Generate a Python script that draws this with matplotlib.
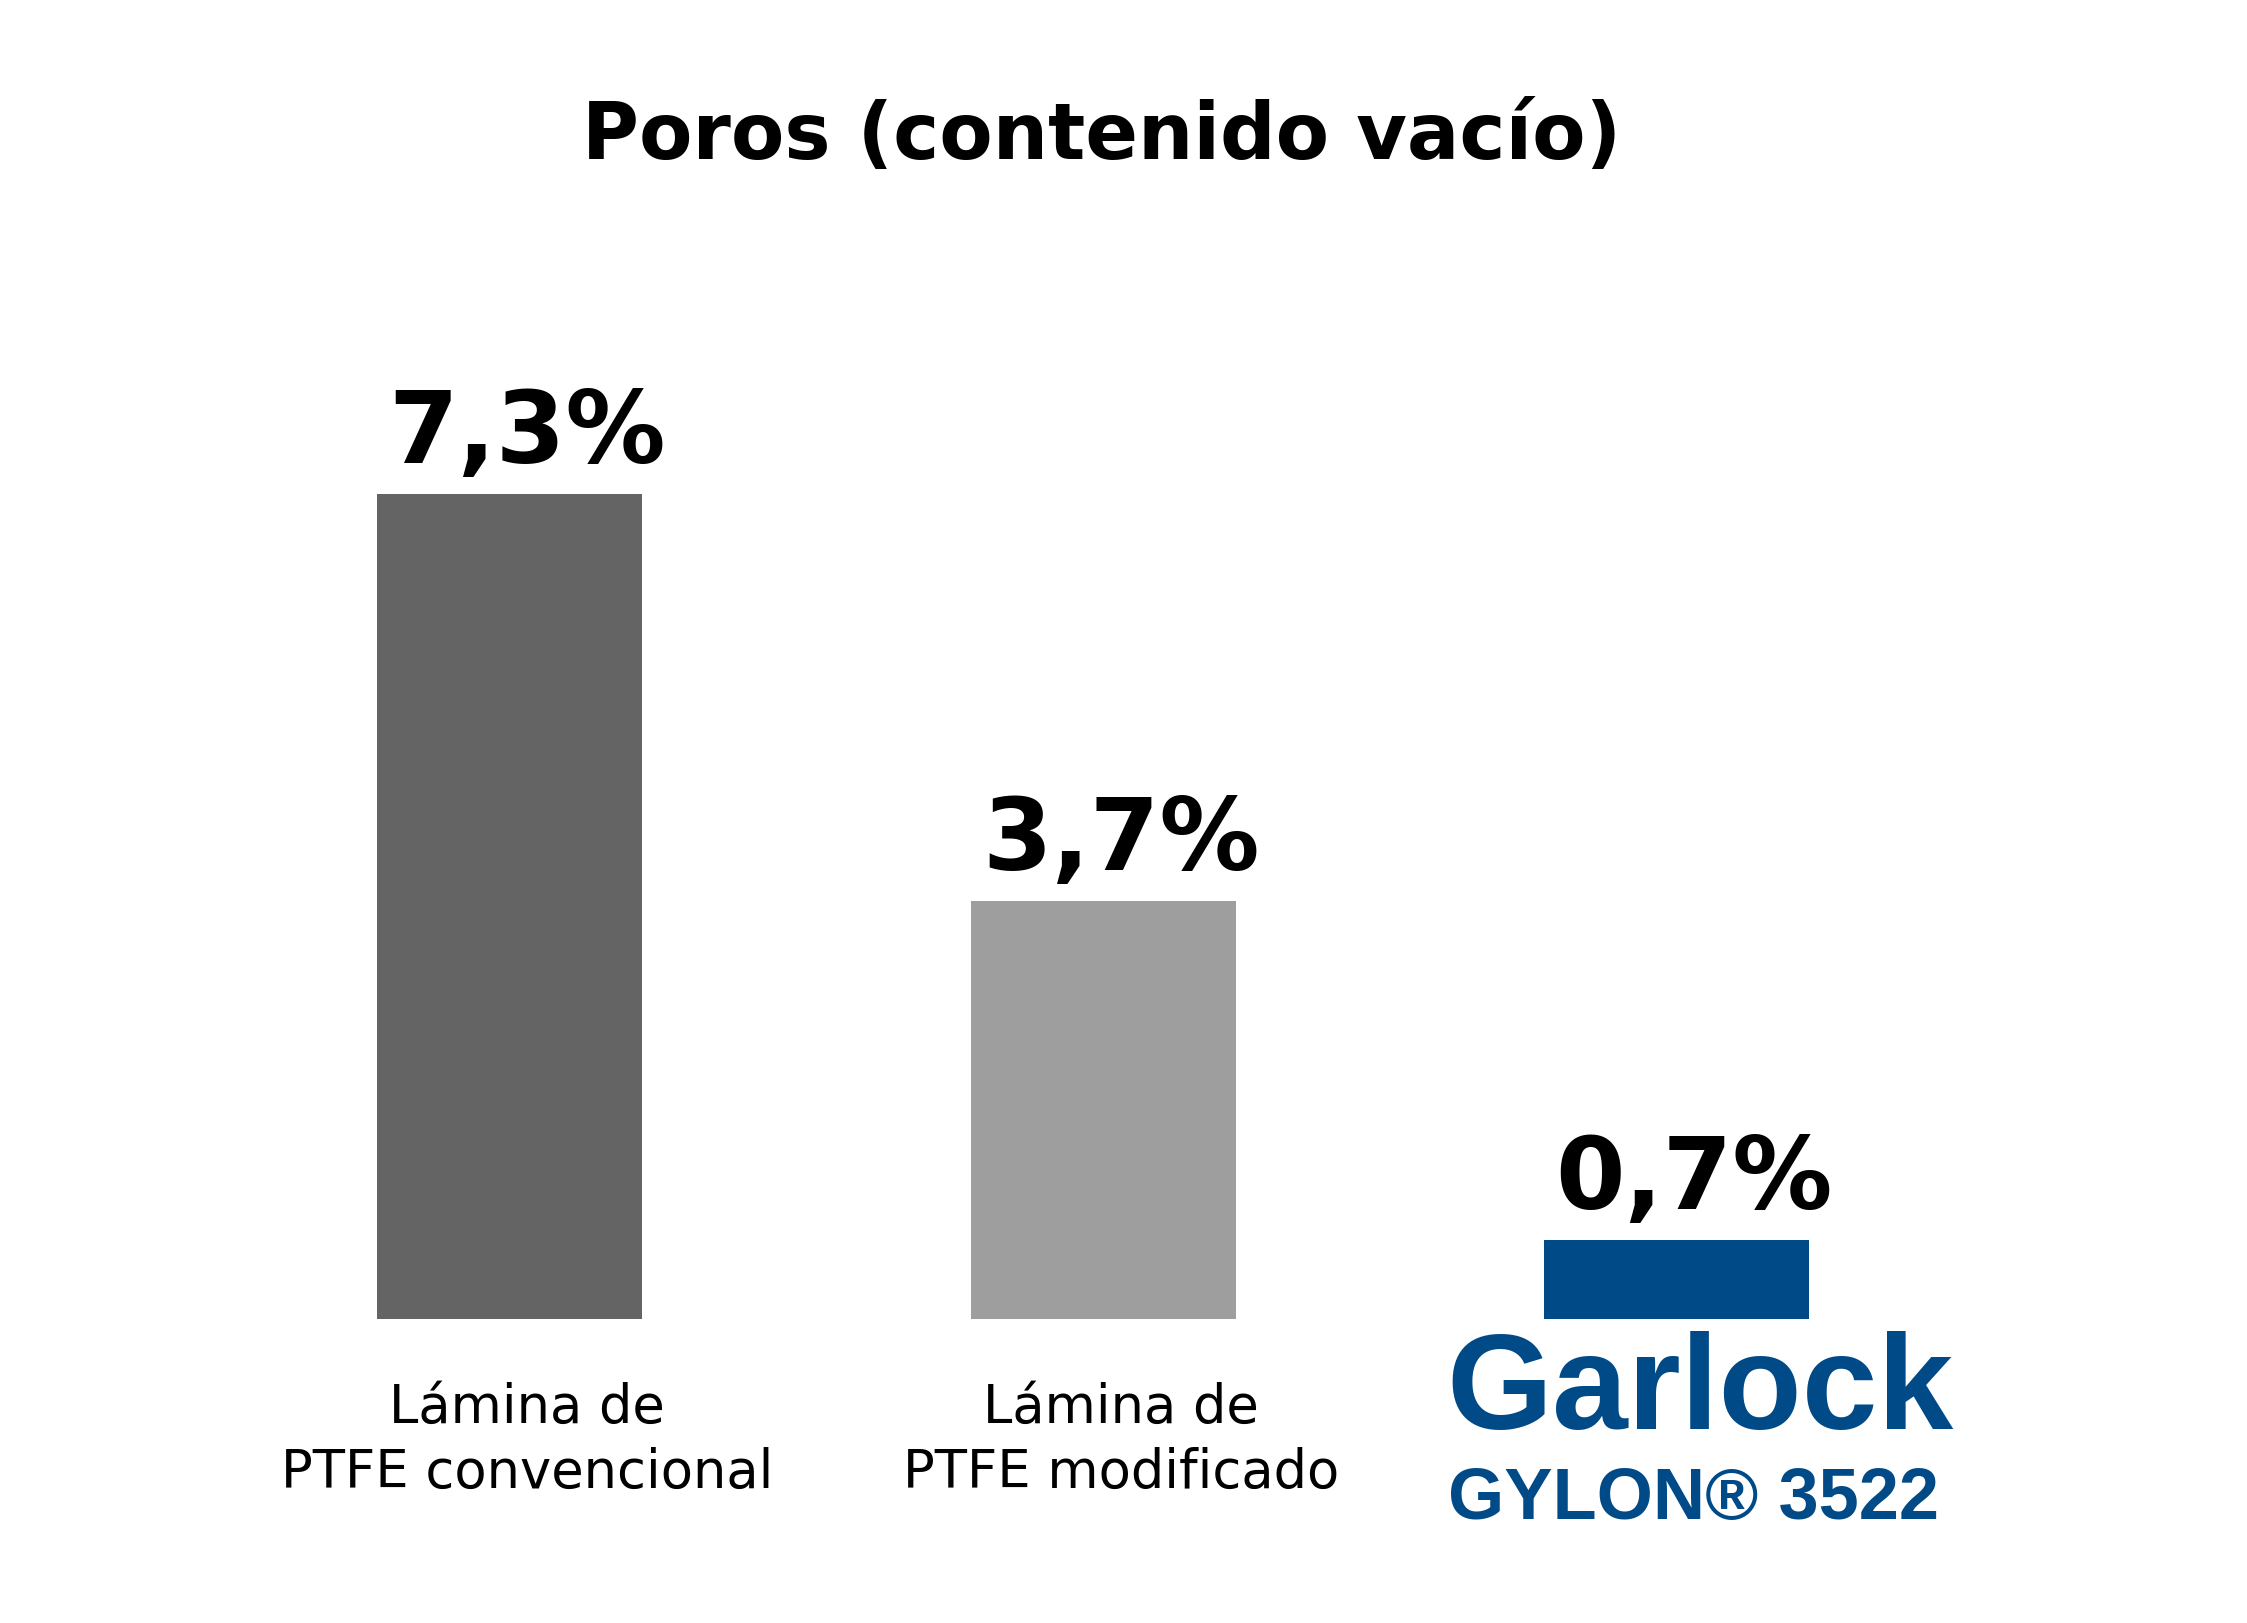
import matplotlib
matplotlib.use("Agg")
import matplotlib.pyplot as plt

categories = ["Lámina de\nPTFE convencional", "Lámina de\nPTFE modificado", ""]
values = [7.3, 3.7, 0.7]
labels = ["7,3%", "3,7%", "0,7%"]
colors = ["#646464", "#9e9e9e", "#004a87"]

fig = plt.figure(figsize=(22.47, 16.24), dpi=100)
ax = fig.add_axes([109/1560, 1-917/1128, (1415-109)/1560, 628/1128])
x = [0, 1.01, 1.985]
ax.bar(x, values, width=0.45, color=colors)
ax.set_xlim(-0.6, 2.6)
ax.set_ylim(0, 8)
ax.axis("off")
for xi, v, l in zip(x, values, labels):
    ax.text(xi + 0.03, v + 0.1, l, ha="center", va="bottom", fontsize=72, fontweight="bold", family="DejaVu Sans")
for xi, c in zip(x, categories):
    if c:
        ax.text(xi + 0.03, -0.55, c, ha="center", va="top", fontsize=38, family="DejaVu Sans", linespacing=1.3)
fig.text(765/1560, 1-95/1128, "Poros (contenido vacío)", ha="center", va="center", fontsize=56, fontweight="bold", family="DejaVu Sans")
fig.text(1180/1560, 1-968/1128, "Garlock", ha="center", va="center", fontsize=98, fontweight="heavy", color="#004a87", family="Liberation Sans")
fig.text(1176/1560, 1-1042/1128, "GYLON® 3522", ha="center", va="center", fontsize=52, fontweight="bold", color="#004a87", family="Liberation Sans")
fig.savefig("out.png", dpi=100, facecolor="white")
